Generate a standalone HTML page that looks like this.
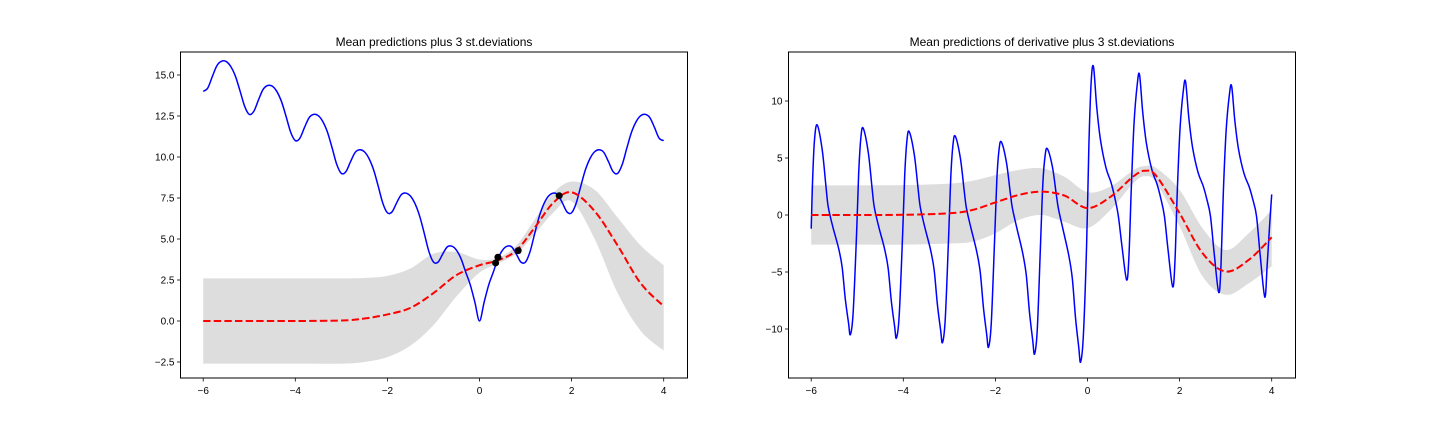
<!DOCTYPE html>
<html><head><meta charset="utf-8"><style>
body{margin:0;background:#fff;}
svg{display:block;font-family:"Liberation Sans","DejaVu Sans",sans-serif;}
</style></head><body>
<svg id="fig" width="1440" height="432" viewBox="0 0 1440 432" xmlns="http://www.w3.org/2000/svg"></svg>
<script>
// ---- Left chart data ----
const leftTrueX0 = -6, leftTrueStep = 0.1;
const leftTrueY = [14,14.21,14.92,15.58,15.84,15.82,15.51,14.92,14.03,13.09,12.6,12.79,13.48,14.12,14.36,14.32,13.99,13.38,12.47,11.51,11,11.15,11.8,12.4,12.6,12.52,12.15,11.5,10.55,9.55,9,9.11,9.72,10.28,10.44,10.32,9.91,9.22,8.23,7.19,6.6,6.65,7.2,7.7,7.8,7.62,7.15,6.4,5.35,4.25,3.6,3.59,4.08,4.52,4.56,4.32,3.79,2.98,2.2,1.14,0,1.14,2.2,2.98,3.79,4.32,4.56,4.52,4.08,3.59,3.6,4.25,5.35,6.4,7.15,7.62,7.8,7.7,7.2,6.65,6.6,7.19,8.23,9.22,9.91,10.32,10.44,10.28,9.72,9.11,9,9.55,10.55,11.5,12.15,12.52,12.6,12.4,11.8,11.15,11];
const leftBandX = [-6,-5,-4,-3,-2.5,-2,-1.5,-1,-0.5,0,0.4,0.8,1.2,1.6,2,2.5,3,3.5,4];
const leftMean  = [0,0,0,0.03,0.15,0.4,0.8,1.7,2.8,3.4,3.7,4.3,5.7,7.2,7.85,6.7,4.6,2.3,0.9];
const leftUpper = [2.6,2.6,2.6,2.6,2.62,2.75,3.2,4.1,4.2,3.75,3.85,4.6,6.2,7.8,8.5,8.0,6.3,4.6,3.4];
const leftLower = [-2.6,-2.6,-2.6,-2.6,-2.5,-2.2,-1.5,-0.25,1.5,2.95,3.5,4.1,5.3,6.6,7.3,5.0,1.7,-0.6,-1.8];
const obsX = [0.35,0.40,0.84,1.73];
const obsY = [3.54,3.89,4.29,7.64];
const leftYTicks = [-2.5,0,2.5,5,7.5,10,12.5,15];
const leftYTickLabels = ["\u22122.5","0.0","2.5","5.0","7.5","10.0","12.5","15.0"];
const xTicks = [-6,-4,-2,0,2,4];
const xTickLabels = ["\u22126","\u22124","\u22122","0","2","4"];
// ---- Right chart data ----
const rightDX = [-6,-5.97,-5.93,-5.87,-5.76,-5.68,-5.63,-5.53,-5.41,-5.33,-5.26,-5.19,-5.15,-5.09,-5.02,-4.97,-4.92,-4.87,-4.76,-4.68,-4.63,-4.53,-4.41,-4.33,-4.26,-4.19,-4.15,-4.09,-4.02,-3.97,-3.92,-3.87,-3.76,-3.68,-3.63,-3.53,-3.41,-3.33,-3.26,-3.19,-3.15,-3.09,-3.02,-2.97,-2.92,-2.87,-2.76,-2.68,-2.63,-2.53,-2.41,-2.33,-2.26,-2.19,-2.15,-2.09,-2.02,-1.97,-1.92,-1.87,-1.76,-1.68,-1.63,-1.53,-1.41,-1.33,-1.26,-1.19,-1.15,-1.09,-1.02,-0.97,-0.92,-0.87,-0.76,-0.68,-0.63,-0.53,-0.41,-0.33,-0.26,-0.19,-0.15,-0.09,-0.02,0.03,0.08,0.13,0.20,0.28,0.40,0.51,0.59,0.67,0.75,0.85,0.90,0.95,1.01,1.08,1.13,1.20,1.28,1.40,1.51,1.59,1.67,1.75,1.85,1.90,1.95,2.01,2.08,2.13,2.20,2.28,2.40,2.51,2.59,2.67,2.75,2.85,2.90,2.95,3.01,3.08,3.13,3.20,3.28,3.40,3.51,3.59,3.67,3.75,3.85,3.90,3.95,4.0];
const rightDY = [-1.2,3.0,6.5,7.9,5.69,2.53,0.71,-1.05,-2.84,-4.52,-7.35,-9.45,-10.5,-8.61,-2.21,3.57,6.84,7.6,5.47,2.43,0.68,-1.08,-2.92,-4.64,-7.56,-9.72,-10.8,-8.86,-2.27,3.43,6.57,7.3,5.26,2.34,0.66,-1.12,-3.02,-4.82,-7.84,-10.08,-11.2,-9.18,-2.35,3.24,6.21,6.9,4.97,2.21,0.62,-1.16,-3.13,-4.99,-8.12,-10.44,-11.6,-9.51,-2.44,3.01,5.76,6.4,4.61,2.05,0.58,-1.22,-3.29,-5.25,-8.54,-10.98,-12.2,-10.0,-2.56,2.73,5.22,5.8,4.18,1.86,0.52,-1.29,-3.48,-5.55,-9.03,-11.61,-12.9,-10.58,-2.71,6.11,11.7,13.0,9.49,6.63,4.16,2.86,1.56,-0.1,-2.79,-5.7,-3.59,2.21,8.0,11.44,12.3,8.98,6.27,3.94,2.71,1.48,-0.1,-3.09,-6.3,-3.97,2.11,7.61,10.88,11.7,8.54,5.97,3.74,2.57,1.40,-0.1,-3.33,-6.8,-4.28,2.03,7.35,10.51,11.3,8.25,5.76,3.62,2.49,1.36,-0.1,-3.53,-7.2,-4.5,-1.2,1.8];
const rightBandX = [-6,-5,-4,-3,-2.5,-2,-1.5,-1,-0.5,0,0.5,1,1.25,1.5,2,2.5,3,3.5,4];
const rightMean  = [0,0,0.02,0.15,0.44,1.1,1.75,2.05,1.7,0.6,1.6,3.4,3.88,3.4,0.15,-3.36,-4.96,-3.94,-1.96];
const rightUpper = [2.6,2.6,2.62,2.75,3.0,3.5,3.95,4.1,3.35,2.0,2.5,3.95,4.3,4.1,2.2,-1.17,-3.07,-1.6,0.45];
const rightLower = [-2.6,-2.6,-2.6,-2.5,-2.35,-1.6,-0.45,0.0,-0.6,-1.15,0.45,2.8,3.4,2.8,-1.0,-5.4,-7.0,-6.0,-4.5];
const rightYTicks = [-10,-5,0,5,10];
const rightYTickLabels = ["\u221210","\u22125","0","5","10"];

const NS = "http://www.w3.org/2000/svg";
const fig = document.getElementById('fig');
function mk(tag, attrs, parent){const e=document.createElementNS(NS,tag);for(const k in attrs)e.setAttribute(k,attrs[k]);(parent||fig).appendChild(e);return e;}
function smooth(pts){
  let d="M"+pts[0][0].toFixed(2)+","+pts[0][1].toFixed(2);
  for(let i=0;i<pts.length-1;i++){
    const p0=pts[Math.max(0,i-1)],p1=pts[i],p2=pts[i+1],p3=pts[Math.min(pts.length-1,i+2)];
    const c1=[p1[0]+(p2[0]-p0[0])/6,p1[1]+(p2[1]-p0[1])/6];
    const c2=[p2[0]-(p3[0]-p1[0])/6,p2[1]-(p3[1]-p1[1])/6];
    d+="C"+c1[0].toFixed(2)+","+c1[1].toFixed(2)+" "+c2[0].toFixed(2)+","+c2[1].toFixed(2)+" "+p2[0].toFixed(2)+","+p2[1].toFixed(2);
  }
  return d;
}
function axes(cfg){
  const g=mk('g',{});
  
  
  const X=v=>cfg.x0+(v+6)*46.05, Y=v=>cfg.yz-v*cfg.ys;
  const up=cfg.bx.map((x,i)=>[X(x),Y(cfg.up[i])]);
  const lo=cfg.bx.map((x,i)=>[X(x),Y(cfg.lo[i])]).reverse();
  const dUp=smooth(up), dLo=smooth(lo).replace(/^M/,"L");
  const band=mk('path',{d:dUp+dLo+"Z",fill:"#dddddd",stroke:"none"},g);
  
  
  const bl=mk('path',{d:smooth(cfg.tx.map((x,i)=>[X(x),Y(cfg.ty[i])])),fill:"none",stroke:"#0000ff","stroke-width":1.5,"stroke-linejoin":"round"},g);
  
  
  const ml=mk('path',{d:smooth(cfg.bx.map((x,i)=>[X(x),Y(cfg.mean[i])])),fill:"none",stroke:"#ff0000","stroke-width":2,"stroke-dasharray":"7.4 3.2"},g);
  
  
  if(cfg.ox){cfg.ox.forEach((x,i)=>{const c=mk('circle',{cx:X(x),cy:Y(cfg.oy[i]),r:3.5,fill:"#000"},g);
    
    });}
  const fr=mk('rect',{x:cfg.L,y:52,width:507,height:326,fill:"none",stroke:"#000","stroke-width":1},g);
  
  
  xTicks.forEach((t,i)=>{const x=X(t);
    mk('line',{x1:x,x2:x,y1:378,y2:381.5,stroke:"#000","stroke-width":0.8},g);
    const tx=mk('text',{x:x,y:394,"font-size":10,"text-anchor":"middle",fill:"#000"},g);tx.textContent=xTickLabels[i];
    
    });
  cfg.yt.forEach((t,i)=>{const y=Y(t);
    mk('line',{x1:cfg.L-3.5,x2:cfg.L,y1:y,y2:y,stroke:"#000","stroke-width":0.8},g);
    const tx=mk('text',{x:cfg.L-6,y:y+3.6,"font-size":10,"text-anchor":"end",fill:"#000"},g);tx.textContent=cfg.ytl[i];
    
    });
  const ti=mk('text',{x:cfg.L+253.5,y:46,"font-size":12,"text-anchor":"middle",fill:"#000"},g);ti.textContent=cfg.title;
  
  
}
const leftTrueX = leftTrueY.map((_,i)=>leftTrueX0+i*leftTrueStep);
axes({name:"mean-predictions-chart",L:180.5,x0:203.2,yz:321,ys:16.4,bx:leftBandX,up:leftUpper,lo:leftLower,mean:leftMean,tx:leftTrueX,ty:leftTrueY,ox:obsX,oy:obsY,yt:leftYTicks,ytl:leftYTickLabels,title:"Mean predictions plus 3 st.deviations"});
axes({name:"derivative-predictions-chart",L:788.5,x0:811.2,yz:215,ys:11.4,bx:rightBandX,up:rightUpper,lo:rightLower,mean:rightMean,tx:rightDX,ty:rightDY,yt:rightYTicks,ytl:rightYTickLabels,title:"Mean predictions of derivative plus 3 st.deviations"});
</script>
</body></html>
